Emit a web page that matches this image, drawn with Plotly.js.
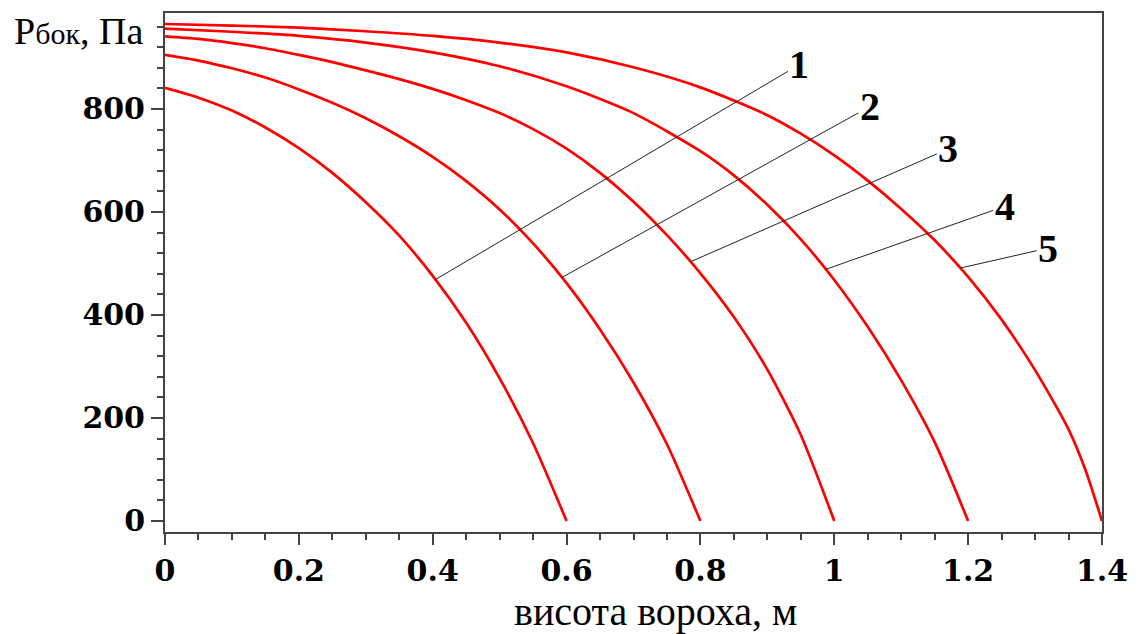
<!DOCTYPE html>
<html><head><meta charset="utf-8">
<script src="https://cdn.plot.ly/plotly-3.0.1.min.js"></script>
<style>html,body{margin:0;padding:0;background:#fff}</style>
</head><body><div id="chart" style="width:1137px;height:634px"></div>
<script>
// Curve data (height of heap, m -> lateral pressure, Pa)
const x1 = [0, 0.05, 0.1, 0.15, 0.2, 0.25, 0.3, 0.35, 0.4, 0.45, 0.5, 0.55, 0.6];
const p1 = [841, 822, 797, 764, 724, 676, 619, 554, 476, 385, 277, 151, 0];
const x2 = [0, 0.05, 0.1, 0.15, 0.2, 0.25, 0.3, 0.35, 0.4, 0.45, 0.5, 0.55, 0.6, 0.65, 0.7, 0.75, 0.8];
const p2 = [905, 894, 879, 861, 838, 812, 782, 747, 707, 660, 605, 539, 462, 372, 269, 149, 0];
const x3 = [0, 0.05, 0.1, 0.15, 0.2, 0.25, 0.3, 0.35, 0.4, 0.45, 0.5, 0.55, 0.6, 0.65, 0.7, 0.75, 0.8, 0.85, 0.9, 0.95, 1.0];
const p3 = [941, 936, 928, 918, 905, 891, 875, 858, 839, 817, 792, 761, 723, 676, 620, 555, 481, 396, 294, 167, 0];
const x4 = [0, 0.1, 0.2, 0.3, 0.4, 0.5, 0.6, 0.7, 0.8, 0.85, 0.9, 0.95, 1.0, 1.05, 1.1, 1.15, 1.2];
const p4 = [956, 950, 942, 929, 910, 883, 844, 792, 718, 671, 614, 547, 468, 377, 273, 153, 0];
const x5 = [0, 0.1, 0.2, 0.3, 0.4, 0.5, 0.6, 0.7, 0.8, 0.9, 0.95, 1.0, 1.05, 1.1, 1.15, 1.2, 1.25, 1.3, 1.35, 1.375, 1.4];
const p5 = [965, 962, 958, 951, 942, 929, 910, 881, 842, 788, 752, 710, 661, 606, 545, 474, 391, 293, 178, 100, 0];

const curveLabels = ['1', '2', '3', '4', '5'];
const calloutX = [0.404, 0.593, 0.785, 0.987, 1.188];

const xTickVals = [0, 0.2, 0.4, 0.6, 0.8, 1, 1.2, 1.4];
const xTickText = ['0', '0.2', '0.4', '0.6', '0.8', '1', '1.2', '1.4'];
const yTickVals = [0, 200, 400, 600, 800];
const yTickText = ['0', '200', '400', '600', '800'];

const xTitle = 'висота вороха, м';
const yTitle = 'P<span style="font-size:30px">бок</span>, Па';

const xs = [x1, x2, x3, x4, x5];
const ps = [p1, p2, p3, p4, p5];

function interp(xa, ya, x) {
  for (let i = 0; i < xa.length - 1; i++) {
    if (x >= xa[i] && x <= xa[i + 1]) {
      const t = (x - xa[i]) / (xa[i + 1] - xa[i]);
      return ya[i] + t * (ya[i + 1] - ya[i]);
    }
  }
  return ya[ya.length - 1];
}

const traces = xs.map((x, i) => ({
  x: x, y: ps[i], type: 'scatter', mode: 'lines',
  line: {color: '#ff0000', width: 2.7, shape: 'spline', smoothing: 0.7},
  hoverinfo: 'skip', showlegend: false
}));

// text offsets (pixels) of callout labels relative to the curve point
const offsets = [[364, -215], [308, -171], [258, -113], [179, -63], [88, -20]];

const annotations = curveLabels.map((lab, i) => ({
  x: calloutX[i], y: interp(xs[i], ps[i], calloutX[i]), xref: 'x', yref: 'y',
  text: lab, showarrow: true, arrowhead: 0, arrowwidth: 1, arrowcolor: '#222',
  ax: offsets[i][0], ay: offsets[i][1],
  font: {family: 'Liberation Serif', size: 40, color: '#000', weight: 'bold'}
}));

annotations.push({
  xref: 'paper', yref: 'paper', x: 0.524, y: -0.154, xanchor: 'center', yanchor: 'middle',
  text: xTitle, showarrow: false,
  font: {family: 'Liberation Serif', size: 40, color: '#000'}
});
annotations.push({
  xref: 'paper', yref: 'paper', x: -0.1633, y: 0.965, xanchor: 'left', yanchor: 'middle',
  text: yTitle, showarrow: false,
  font: {family: 'Liberation Serif', size: 38, color: '#000'}
});

const tickFont = {family: 'DejaVu Serif', size: 30, color: '#000', weight: 'bold'};

const layout = {
  width: 1137, height: 634,
  margin: {l: 165, r: 35, t: 13, b: 102},
  paper_bgcolor: '#fff', plot_bgcolor: '#fff',
  xaxis: {
    range: [0, 1.4], tickvals: xTickVals, ticktext: xTickText,
    ticks: 'outside', ticklen: 11, tickwidth: 2, tickcolor: '#444',
    minor: {dtick: 0.05, ticks: 'outside', ticklen: 6, tickwidth: 2, tickcolor: '#444', showgrid: false},
    showgrid: false, zeroline: false, showline: true, linecolor: '#444', linewidth: 2, mirror: true,
    tickfont: tickFont
  },
  yaxis: {
    range: [-21.4, 986.4], tickvals: yTickVals, ticktext: yTickText,
    ticks: 'outside', ticklen: 12, tickwidth: 2, tickcolor: '#444',
    minor: {dtick: 40, ticks: 'outside', ticklen: 6, tickwidth: 2, tickcolor: '#444', showgrid: false},
    showgrid: false, zeroline: false, showline: true, linecolor: '#444', linewidth: 2, mirror: true,
    tickfont: tickFont
  },
  annotations: annotations
};

Plotly.newPlot('chart', traces, layout, {displayModeBar: false, staticPlot: true});
</script>
</body></html>
